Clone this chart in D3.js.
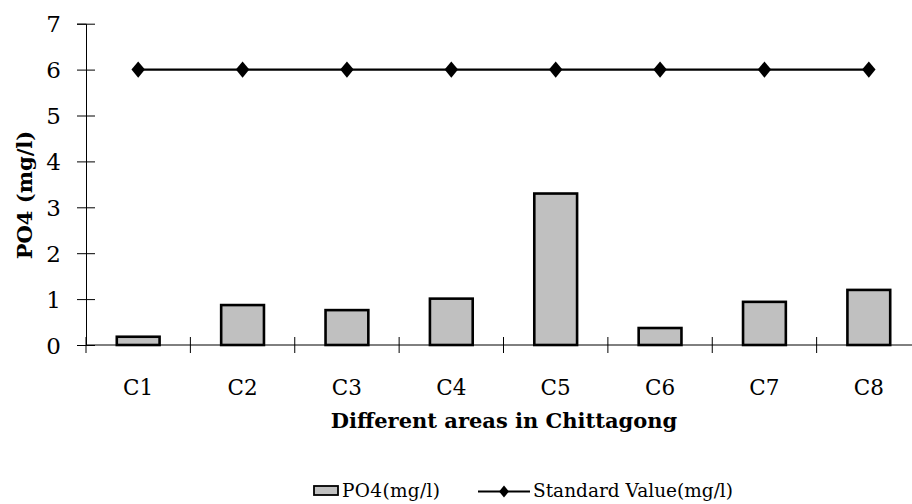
<!DOCTYPE html>
<html>
<head>
<meta charset="utf-8">
<script src="https://cdn.jsdelivr.net/npm/d3@7"></script>
<style>
  html, body { margin: 0; padding: 0; background: #fff; }
  svg { display: block; }
  text { font-family: "DejaVu Serif", serif; fill: #000; }
</style>
</head>
<body>
<script>
// Phosphate readings per sampling site, with the standard limit
const categories = ["C1", "C2", "C3", "C4", "C5", "C6", "C7", "C8"];
const po4Values = [0.18, 0.87, 0.76, 1.01, 3.30, 0.37, 0.94, 1.20];
const standardValues = [6, 6, 6, 6, 6, 6, 6, 6];
const yTicks = [0, 1, 2, 3, 4, 5, 6, 7];

const W = 912, H = 504;
const margin = { left: 86, top: 23.7, bottom: 345 };

const svg = d3.select("body").append("svg")
  .attr("width", W).attr("height", H);

const x = d3.scaleBand()
  .domain(categories)
  .range([margin.left, 921])
  .paddingInner(0.59)
  .paddingOuter(0.295);

const y = d3.scaleLinear()
  .domain([0, 7])
  .range([margin.bottom, margin.top]);

// Bars
svg.append("g").selectAll("rect")
  .data(categories)
  .join("rect")
  .attr("x", d => x(d))
  .attr("y", (d, i) => y(po4Values[i]))
  .attr("width", x.bandwidth())
  .attr("height", (d, i) => y(0) - y(po4Values[i]))
  .attr("fill", "#c0c0c0")
  .attr("stroke", "#000")
  .attr("stroke-width", 2.6);

// Y axis
const yAxis = svg.append("g")
  .attr("transform", `translate(${margin.left},0)`)
  .call(d3.axisLeft(y).tickValues(yTicks).tickSize(9).tickPadding(16).tickFormat(d3.format("d")));
yAxis.select(".domain").attr("stroke", "#000").attr("stroke-width", 1);
yAxis.selectAll(".tick line").attr("x2", 9).attr("x1", -9).attr("stroke", "#000");
yAxis.selectAll(".tick text").attr("font-family", "DejaVu Serif").attr("font-size", 23).attr("dy", "0.36em");

// X axis with ticks between categories
const xAxisG = svg.append("g").attr("transform", `translate(0,${margin.bottom})`);
xAxisG.append("line")
  .attr("x1", margin.left).attr("x2", 921)
  .attr("stroke", "#000").attr("stroke-width", 1);
const step = x.step();
const boundaries = d3.range(0, categories.length + 1).map(i => margin.left + i * step);
xAxisG.selectAll("line.tk")
  .data(boundaries)
  .join("line")
  .attr("class", "tk")
  .attr("x1", d => d).attr("x2", d => d)
  .attr("y1", -8).attr("y2", 8)
  .attr("stroke", "#000").attr("stroke-width", 1);
xAxisG.selectAll("text")
  .data(categories)
  .join("text")
  .attr("x", d => x(d) + x.bandwidth() / 2)
  .attr("y", 50)
  .attr("text-anchor", "middle")
  .attr("font-size", 21.5)
  .text(d => d);

// Standard value line with diamond markers
const lineGen = d3.line()
  .x((d, i) => x(categories[i]) + x.bandwidth() / 2)
  .y(d => y(d));
svg.append("path")
  .datum(standardValues)
  .attr("d", lineGen)
  .attr("fill", "none")
  .attr("stroke", "#000")
  .attr("stroke-width", 2.2);
const diamond = d3.symbol().type(d3.symbolDiamond).size(75);
svg.append("g").selectAll("path")
  .data(standardValues)
  .join("path")
  .attr("d", diamond)
  .attr("transform", (d, i) => `translate(${x(categories[i]) + x.bandwidth() / 2},${y(d)}) scale(1.45,1)`)
  .attr("fill", "#000");

// Axis titles
svg.append("text")
  .attr("x", 504).attr("y", 428)
  .attr("text-anchor", "middle")
  .attr("font-weight", "bold")
  .attr("font-size", 21)
  .text("Different areas in Chittagong");

svg.append("text")
  .attr("transform", "translate(32,195) rotate(-90)")
  .attr("text-anchor", "middle")
  .attr("font-weight", "bold")
  .attr("font-size", 21)
  .text("PO4 (mg/l)");

// Legend
const legend = svg.append("g");
legend.append("rect")
  .attr("x", 314).attr("y", 486)
  .attr("width", 24).attr("height", 9)
  .attr("fill", "#c0c0c0").attr("stroke", "#000").attr("stroke-width", 1.8);
legend.append("text")
  .attr("x", 342).attr("y", 497)
  .attr("font-size", 18.5)
  .attr("textLength", 98)
  .text("PO4(mg/l)");
legend.append("line")
  .attr("x1", 478).attr("x2", 530).attr("y1", 491.5).attr("y2", 491.5)
  .attr("stroke", "#000").attr("stroke-width", 2);
legend.append("path")
  .attr("d", d3.symbol().type(d3.symbolDiamond).size(40))
  .attr("transform", "translate(504,491.5) scale(1.45,1)")
  .attr("fill", "#000");
legend.append("text")
  .attr("x", 533).attr("y", 497)
  .attr("font-size", 18.5)
  .attr("textLength", 200)
  .text("Standard Value(mg/l)");
</script>
</body>
</html>
